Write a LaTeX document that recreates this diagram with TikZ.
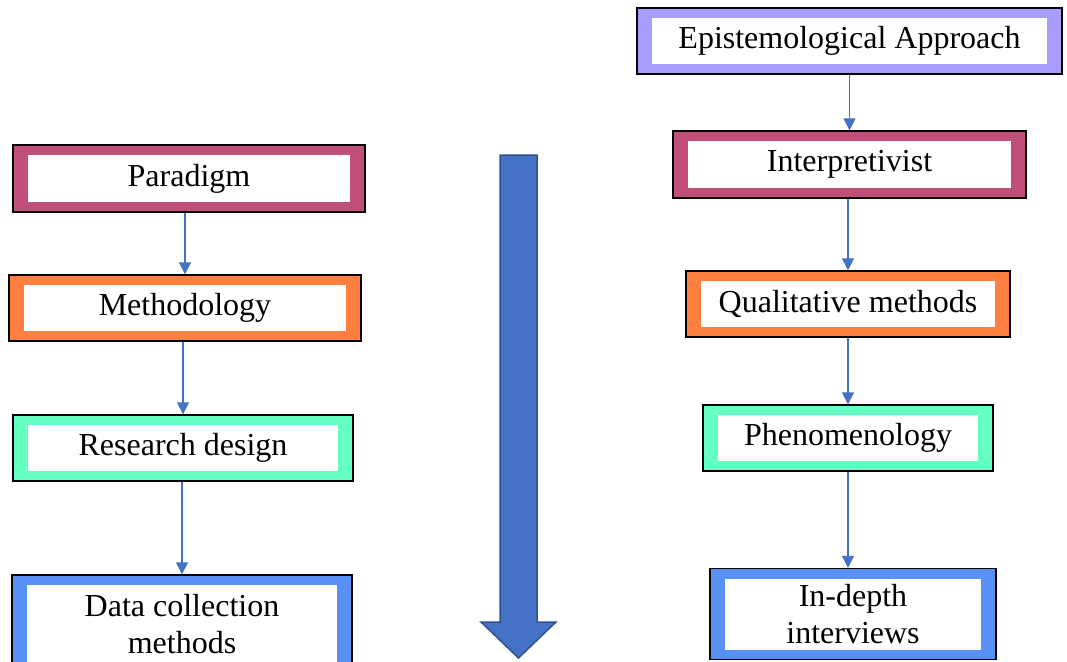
\documentclass[tikz,border=0pt]{standalone}
\usepackage{fontspec}
\setmainfont{Liberation Serif}
\usetikzlibrary{arrows.meta,calc}

\definecolor{magentaframe}{HTML}{C0507A}
\definecolor{orangeframe}{HTML}{FF7F40}
\definecolor{mintframe}{HTML}{66FFC2}
\definecolor{blueframe}{HTML}{5890F6}
\definecolor{lavenderframe}{HTML}{A99CFF}
\definecolor{linkblue}{HTML}{4472C4}
\definecolor{arrowedge}{HTML}{2F528F}

\tikzset{
  layerbox/.style={draw=black, line width=1.3pt, fill=#1, inner sep=0pt, align=center,
    font=\fontsize{32}{37}\selectfont,
    path picture={\fill[white] ($(path picture bounding box.south west)+(15pt,10pt)$)
      rectangle ($(path picture bounding box.north east)+(-15pt,-10pt)$);}},
  link/.style={draw=linkblue, line width=1.1pt, -{Triangle[width=12pt,length=12pt]}},
  bigarrow/.style={fill=linkblue, draw=arrowedge, line width=1.5pt, line join=miter},
}

\begin{document}
\begin{tikzpicture}[x=1pt, y=-1pt]
  \useasboundingbox (0,0) rectangle (1067,661);

  % left column
  \node[layerbox=magentaframe, minimum width=352pt, minimum height=67pt] (paradigm) at (189,178.5) {Paradigm};
  \node[layerbox=orangeframe, minimum width=352pt, minimum height=66pt] (method) at (185,308) {Methodology};
  \node[layerbox=mintframe, minimum width=340pt, minimum height=66pt] (design) at (183,448) {Research design};
  \node[layerbox=blueframe, minimum width=340pt, minimum height=98pt] (data) at (182,624) {Data collection\\methods};

  % right column
  \node[layerbox=lavenderframe, minimum width=425pt, minimum height=66pt] (epist) at (849.5,41) {Epistemological Approach};
  \node[layerbox=magentaframe, minimum width=353pt, minimum height=67pt] (interp) at (849.5,164.5) {Interpretivist};
  \node[layerbox=orangeframe, minimum width=324pt, minimum height=66pt] (qual) at (848,304) {Qualitative methods};
  \node[layerbox=mintframe, minimum width=290pt, minimum height=66pt] (phen) at (848,438) {Phenomenology};
  \node[layerbox=blueframe, minimum width=286pt, minimum height=91pt] (interv) at (853,614) {In-depth\\interviews};

  \draw[link] (paradigm.south -| method.north) -- (method.north);
  \draw[link] (method.south -| design.north) -- (design.north);
  \draw[link] (design.south -| data.north) -- (data.north);

  \draw[link] (epist.south -| interp.north) -- (interp.north);
  \draw[link] (interp.south -| qual.north) -- (qual.north);
  \draw[link] (qual.south -| phen.north) -- (phen.north);
  \draw[link] (phen.south) -- (phen.south |- interv.north);

  % big downward arrow
  \draw[bigarrow] (500,155) -- (537,155) -- (537,622) -- (556,622) -- (518.5,658)
    -- (481,622) -- (500,622) -- cycle;
\end{tikzpicture}
\end{document}
